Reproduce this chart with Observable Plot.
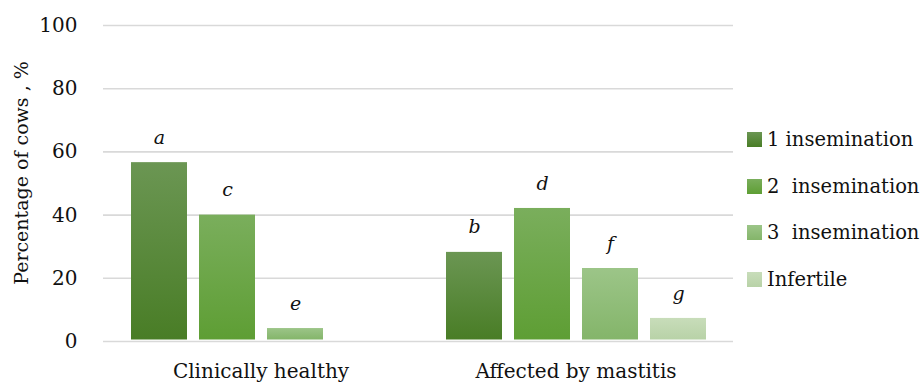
<!DOCTYPE html>
<html>
<head>
<meta charset="utf-8">
<script src="https://cdn.jsdelivr.net/npm/d3@7"></script>
<script src="https://cdn.jsdelivr.net/npm/@observablehq/plot@0.6"></script>
<style>
  html, body { margin: 0; padding: 0; background: #fff; }
  #wrap { position: relative; width: 921px; height: 385px; font-family: "DejaVu Serif", serif; }
  #legend { position: absolute; left: 747px; top: 116px; }
  .item { display: flex; align-items: center; height: 46.7px; font-size: 19.5px; color: #111; white-space: pre; }
  .sw { width: 15px; height: 15px; margin-right: 5px; flex: none; }
</style>
</head>
<body>
<div id="wrap"><div id="chart"></div><div id="legend"></div></div>
<script>
const groups = ["Clinically healthy", "Affected by mastitis"];
const series = ["1 insemination", "2  insemination", "3  insemination", "Infertile"];
const healthyValues = [56.6, 40.0, 4.1, 0];
const mastitisValues = [28.2, 42.1, 23.1, 7.3];
const healthyLetters = ["a", "c", "e", ""];
const mastitisLetters = ["b", "d", "f", "g"];
const yTicks = [0, 20, 40, 60, 80, 100];

const gradTop = ["#6b9653", "#7aae5c", "#9cc588", "#c8ddba"];
const gradBottom = ["#497d26", "#5e9e34", "#84b56a", "#b8d2a7"];

const data = [];
series.forEach((s, i) => {
  data.push({group: groups[0], series: s, value: healthyValues[i], letter: healthyLetters[i]});
  data.push({group: groups[1], series: s, value: mastitisValues[i], letter: mastitisLetters[i]});
});
const shown = data.filter(d => d.value > 0);

const chart = Plot.plot({
  width: 740,
  height: 385,
  marginTop: 25,
  marginBottom: 44,
  marginLeft: 103,
  marginRight: 7,
  style: {fontFamily: "DejaVu Serif, serif", fontSize: "20px", color: "#111", background: "transparent"},
  fx: {domain: groups, padding: 0, label: null, tickSize: 0, tickPadding: 22},
  x: {domain: series, axis: null, paddingInner: 0.1825, paddingOuter: 0.391},
  y: {domain: [0, 100], ticks: yTicks, tickSize: 0, tickPadding: 26, label: null},
  color: {domain: series, range: series.map((s, i) => `url(#grad${i})`)},
  marks: [
    Plot.ruleY(yTicks, {stroke: "#d9d9d9", strokeWidth: 1.6}),
    Plot.barY(shown, {fx: "group", x: "series", y: "value", fill: "series", insetBottom: 1.5, style: "filter: drop-shadow(1px 1px 1.5px rgba(0,0,0,0.25))"}),
    Plot.text(shown, {fx: "group", x: "series", y: "value", text: "letter", dy: -25, fontStyle: "italic", fontSize: 19, fill: "#111"})
  ]
});

const svg = d3.select(chart);
const defs = svg.insert("defs", ":first-child");
series.forEach((s, i) => {
  const g = defs.append("linearGradient").attr("id", `grad${i}`).attr("x1", 0).attr("y1", 0).attr("x2", 0).attr("y2", 1);
  g.append("stop").attr("offset", "0%").attr("stop-color", gradTop[i]);
  g.append("stop").attr("offset", "100%").attr("stop-color", gradBottom[i]);
});
// y axis title
svg.append("text")
  .attr("transform", "translate(28,173) rotate(-90)")
  .attr("text-anchor", "middle")
  .attr("font-size", 19)
  .attr("fill", "#111")
  .text("Percentage of cows , %");

document.getElementById("chart").appendChild(chart);

const legend = d3.select("#legend");
series.forEach((s, i) => {
  const it = legend.append("div").attr("class", "item");
  it.append("div").attr("class", "sw").style("background", `linear-gradient(${gradTop[i]}, ${gradBottom[i]})`);
  it.append("span").text(s);
});
</script>
</body>
</html>
